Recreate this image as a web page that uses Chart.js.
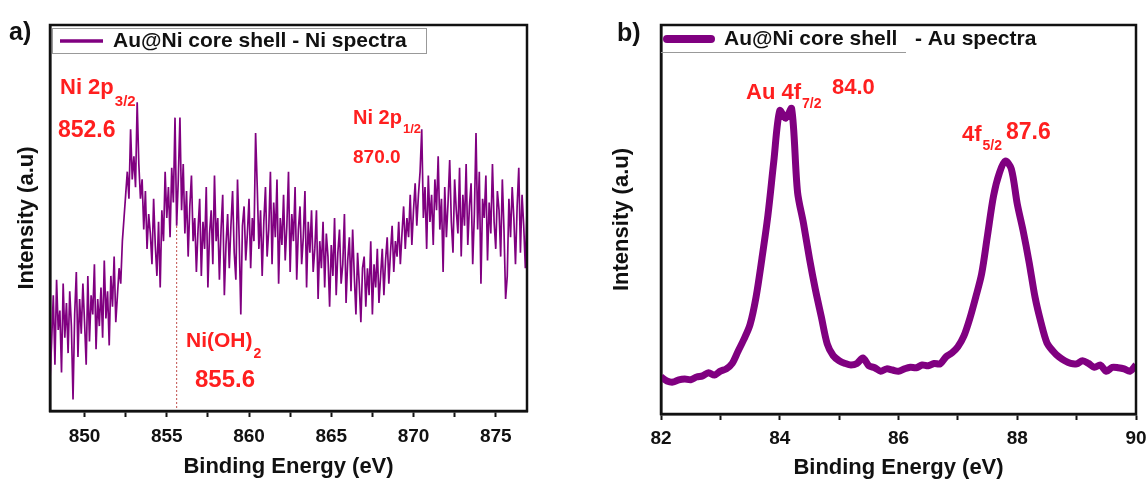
<!DOCTYPE html>
<html>
<head>
<meta charset="utf-8">
<script src="https://cdn.jsdelivr.net/npm/chart.js@4.4.0/dist/chart.umd.min.js"></script>
<style>
body { margin: 0; background: #fff; }
#wrap { position: relative; width: 1146px; height: 479px; }
.panel { position: absolute; top: 0; width: 573px; height: 479px; }
</style>
</head>
<body>
<div id="wrap">
  <div class="panel" style="left:0"><canvas id="niChart" width="573" height="479"></canvas></div>
  <div class="panel" style="left:573px"><canvas id="auChart" width="573" height="479"></canvas></div>
</div>
<script>
// panel a: Ni 2p spectrum, one value every 0.1 eV from 847.9 eV
var niStart = 847.9;
var niStep = 0.1;
var niIntensity = [
  8,
  18, 30, 12, 34, 21, 26, 10, 33, 19, 28,
  15, 31, 22, 3, 25, 36, 14, 29, 20, 33,
  23, 12, 35, 18, 30, 25, 38, 16, 29, 22,
  32, 19, 39, 24, 31, 17, 35, 27, 40, 23,
  30, 37, 33, 44, 50, 56, 62, 55, 73, 60,
  66, 58, 80, 64, 55, 60, 47, 57, 42, 51,
  46, 38, 55, 43, 35, 49, 32, 52, 44, 62,
  50, 58, 45, 63, 54, 76, 48, 60, 76, 52,
  64, 46, 57, 40, 53, 61, 44, 50, 36, 47,
  55, 35, 49, 42, 58, 32, 46, 52, 38, 61,
  44, 50, 34, 47, 56, 30, 43, 51, 37, 48,
  57, 41, 34, 60, 45, 25, 48, 53, 39, 46,
  55, 37, 50, 44, 72, 58, 42, 52, 35, 49,
  58, 40, 47, 62, 38, 54, 45, 60, 33, 50,
  43, 56, 39, 48, 62, 36, 51, 44, 58, 34,
  47, 53, 38, 45, 57, 32, 49, 41, 52, 36,
  42, 52, 29, 44, 37, 49, 32, 46, 40, 27,
  43, 35, 50, 30, 41, 47, 33, 38, 51, 28,
  39, 45, 31, 47, 35, 25, 41, 33, 23, 37,
  40, 27, 37, 30, 44, 25, 38, 32, 42, 28,
  35, 42, 30, 39, 45, 33, 41, 48, 36, 44,
  40, 49, 38, 46, 53, 42, 50, 45, 56, 43,
  52, 59, 48, 56, 62, 73, 50, 58, 42, 61,
  49, 56, 43, 60, 52, 66, 47, 55, 36, 58,
  45, 54, 65, 49, 41, 60, 52, 46, 63, 40,
  56, 48, 64, 43, 53, 59, 38, 51, 72, 47,
  62, 33, 55, 50, 61, 39, 54, 46, 64, 49,
  42, 57, 52, 40, 60, 47, 29, 35, 55, 45,
  58, 50, 38, 53, 63, 41, 56, 48, 37, 52
];
var niTicks = [850, 855, 860, 865, 870, 875];
var niOH = 855.6;

// panel b: Au 4f spectrum, one value every 0.1 eV from 82.0 eV
var auStart = 82.0;
var auStep = 0.1;
var auIntensity = [
  9.5, 8.5, 8.2, 8.8, 9.0, 8.8, 9.5, 9.8, 10.6, 10.0,
  11.0, 11.6, 13.0, 16.2, 19.3, 23, 30, 40, 51, 65,
  78, 76, 78.5, 57, 49, 40, 32, 25, 18, 15,
  13.7, 13, 12.6, 13, 14.4, 12.4, 11.9, 11, 11.6, 11.3,
  11, 11.6, 12, 11.9, 12.6, 12.4, 13, 12.9, 14.7, 15.7,
  17.3, 20, 24.5, 30, 36, 46, 56, 62, 65, 63,
  54, 47, 39, 30, 23.5, 18.3, 16.2, 14.7, 13.7, 13,
  12.9, 13.7, 13, 12, 12.6, 11, 12, 11.9, 11.6, 11,
  12.6
];
var auTicks = [82, 84, 86, 88, 90];

var purple = "#800080";
var red = "#ff1f1f";
var ink = "#111";
var fam = "'Liberation Sans', Arial, sans-serif";

function toPoints(start, step, vals) {
  return vals.map(function (v, i) {
    return { x: Math.round((start + i * step) * 100) / 100, y: v };
  });
}

function bold(size) { return "bold " + size + "px " + fam; }

// main text plus a subscript right after it
function subText(ctx, x, y, main, sub, size, subSize, drop) {
  ctx.font = bold(size);
  ctx.fillText(main, x, y);
  var w = ctx.measureText(main).width;
  ctx.font = bold(subSize);
  ctx.fillText(sub, x + w + 1, y + drop);
}

var framePlugin = {
  id: "frame",
  afterDraw: function (chart) {
    var a = chart.chartArea, ctx = chart.ctx;
    ctx.save();
    ctx.strokeStyle = ink;
    ctx.lineWidth = 2.5;
    ctx.strokeRect(a.left, a.top, a.right - a.left, a.bottom - a.top);
    ctx.restore();
  }
};

var niDecor = {
  id: "niDecor",
  beforeDatasetsDraw: function (chart) {
    var ctx = chart.ctx, x = chart.scales.x.getPixelForValue(niOH);
    ctx.save();
    ctx.strokeStyle = "#c0504d";
    ctx.lineWidth = 1;
    ctx.setLineDash([2, 2]);
    ctx.beginPath();
    ctx.moveTo(x, 218);
    ctx.lineTo(x, chart.chartArea.bottom);
    ctx.stroke();
    ctx.restore();
  },
  afterDraw: function (chart) {
    var ctx = chart.ctx;
    ctx.save();
    // legend
    ctx.strokeStyle = "#999";
    ctx.lineWidth = 1;
    ctx.strokeRect(52.5, 28.5, 374, 25);
    ctx.strokeStyle = purple;
    ctx.lineWidth = 3.5;
    ctx.beginPath();
    ctx.moveTo(60, 41);
    ctx.lineTo(103, 41);
    ctx.stroke();
    ctx.fillStyle = ink;
    ctx.textBaseline = "middle";
    ctx.font = bold(21);
    ctx.fillText("Au@Ni core shell - Ni spectra", 113, 41);
    ctx.font = bold(25);
    ctx.fillText("a)", 9, 33);
    // peak labels
    ctx.fillStyle = red;
    ctx.textBaseline = "alphabetic";
    subText(ctx, 60, 94, "Ni 2p", "3/2", 22, 15, 12);
    ctx.font = bold(23);
    ctx.fillText("852.6", 58, 137);
    subText(ctx, 353, 124, "Ni 2p", "1/2", 20, 13, 9);
    ctx.font = bold(19);
    ctx.fillText("870.0", 353, 163);
    subText(ctx, 186, 347, "Ni(OH)", "2", 21, 14, 11);
    ctx.font = bold(24);
    ctx.fillText("855.6", 195, 387);
    ctx.restore();
  }
};

var auDecor = {
  id: "auDecor",
  afterDraw: function (chart) {
    var ctx = chart.ctx;
    ctx.save();
    ctx.strokeStyle = "#999";
    ctx.lineWidth = 1;
    ctx.beginPath();
    ctx.moveTo(88, 52.5);
    ctx.lineTo(333, 52.5);
    ctx.stroke();
    ctx.strokeStyle = purple;
    ctx.lineWidth = 8;
    ctx.lineCap = "round";
    ctx.beginPath();
    ctx.moveTo(94, 39);
    ctx.lineTo(138, 39);
    ctx.stroke();
    ctx.fillStyle = ink;
    ctx.textBaseline = "middle";
    ctx.font = bold(21);
    ctx.fillText("Au@Ni core shell", 151, 39);
    ctx.fillText("- Au spectra", 342, 39);
    ctx.font = bold(25);
    ctx.fillText("b)", 44, 34);
    ctx.fillStyle = red;
    ctx.textBaseline = "alphabetic";
    subText(ctx, 173, 99, "Au 4f", "7/2", 22, 14, 9);
    ctx.font = bold(22);
    ctx.fillText("84.0", 259, 94);
    subText(ctx, 389, 141, "4f", "5/2", 22, 14, 9);
    ctx.font = bold(23);
    ctx.fillText("87.6", 433, 139);
    ctx.restore();
  }
};

function kurChart(id, points, lineW, xMin, xMax, step, labels, area, extra) {
  var ctx = document.getElementById(id).getContext("2d");
  return new Chart(ctx, {
    type: "line",
    data: {
      datasets: [{
        data: points,
        borderColor: purple,
        borderWidth: lineW,
        pointRadius: 0,
        tension: area.tension,
        fill: false
      }]
    },
    options: {
      responsive: false,
      animation: false,
      events: [],
      layout: {
        autoPadding: false,
        padding: { left: 0, top: area.top, right: area.rightPad, bottom: 0 }
      },
      plugins: { legend: { display: false }, tooltip: { enabled: false } },
      scales: {
        x: {
          type: "linear",
          min: xMin,
          max: xMax,
          ticks: {
            stepSize: step,
            includeBounds: false,
            autoSkip: false,
            maxRotation: 0,
            padding: area.tickPad,
            color: ink,
            font: { family: fam, size: 19, weight: "bold" },
            callback: function (v) { return labels.indexOf(v) >= 0 ? String(v) : ""; }
          },
          grid: { drawOnChartArea: false, drawTicks: true, tickLength: 6, tickWidth: 2, tickColor: ink },
          border: { display: true, color: ink, width: 2.5 },
          title: {
            display: true,
            text: "Binding Energy (eV)",
            color: ink,
            font: { family: fam, size: 22, weight: "bold", lineHeight: 1 },
            padding: { top: 0, bottom: area.titlePad }
          },
          afterFit: function (s) {
            s.height = 479 - area.bottom;
            // the end labels may spill past the frame, as in the figure
            s.paddingLeft = 0;
            s.paddingRight = 0;
          }
        },
        y: {
          min: 0,
          max: 100,
          ticks: { display: false },
          grid: { display: false },
          border: { display: true, color: ink, width: 2.5 },
          title: {
            display: true,
            text: "Intensity (a.u)",
            color: ink,
            font: { family: fam, size: 22, weight: "bold", lineHeight: 1 },
            padding: { top: area.yTitlePad, bottom: 0 }
          },
          afterFit: function (s) { s.width = area.left; }
        }
      }
    },
    plugins: [framePlugin, extra]
  });
}

kurChart("niChart", toPoints(niStart, niStep, niIntensity), 1.7, 847.9, 876.9, 2.5, niTicks,
  { left: 50, top: 25, bottom: 411, rightPad: 46, tickPad: 8, titlePad: 1, yTitlePad: 16, tension: 0 }, niDecor);
kurChart("auChart", toPoints(auStart, auStep, auIntensity), 7, 82, 90, 1, auTicks,
  { left: 88, top: 25, bottom: 414, rightPad: 10, tickPad: 7, titlePad: 0, yTitlePad: 38, tension: 0.3 }, auDecor);
</script>
</body>
</html>
